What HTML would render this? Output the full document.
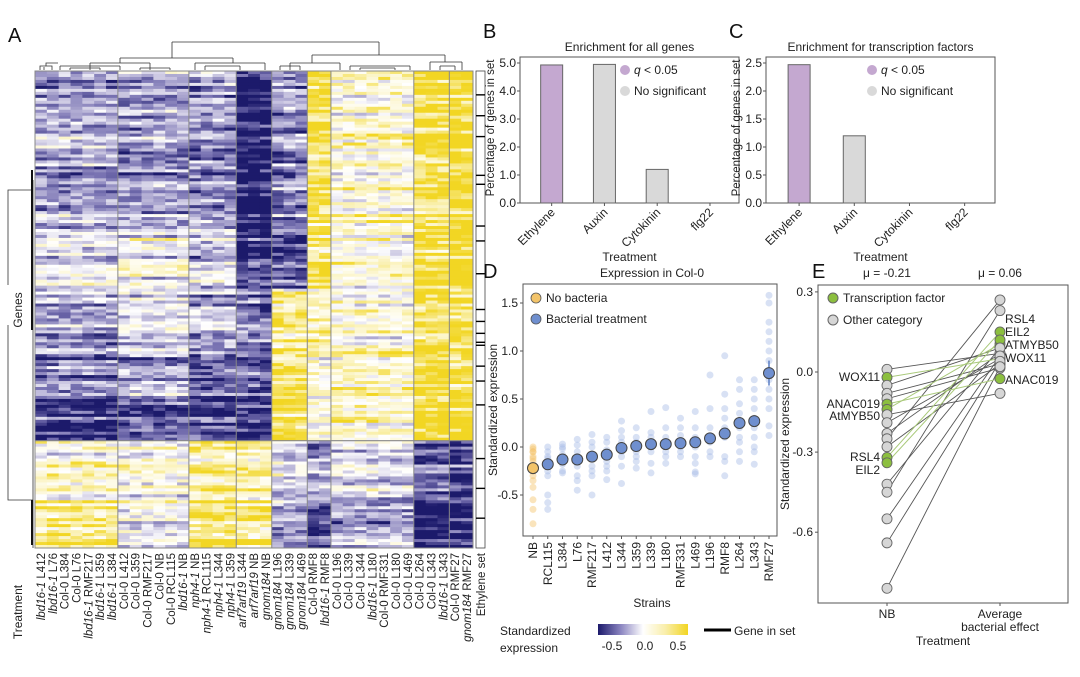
<!DOCTYPE html>
<html><head><meta charset="utf-8"><style>
html,body{margin:0;padding:0;background:#fff}
svg{display:block;font-family:"Liberation Sans",Arial,sans-serif}
</style></head><body>
<svg id="fig" width="1080" height="677" viewBox="0 0 1080 677">
<g id="hm"></g>
<g id="pb"></g>
<g id="pc"></g>
<g id="pd"></g>
<g id="pe"></g>
<g id="lg"></g>
</svg>
<script>
// ---------- DATA ----------
const hmColumns = ["lbd16-1 L412","lbd16-1 L76","Col-0 L384","Col-0 L76","lbd16-1 RMF217","lbd16-1 L359","lbd16-1 L384","Col-0 L412","Col-0 L359","Col-0 RMF217","Col-0 NB","Col-0 RCL115","lbd16-1 NB","nph4-1 NB","nph4-1 RCL115","nph4-1 L344","nph4-1 L359","arf7arf19 L344","arf7arf19 NB","gnom184 NB","gnom184 L196","gnom184 L339","gnom184 L469","Col-0 RMF8","lbd16-1 RMF8","Col-0 L196","Col-0 L339","Col-0 L344","lbd16-1 L180","Col-0 RMF331","Col-0 L180","Col-0 L469","Col-0 L264","Col-0 L343","lbd16-1 L343","Col-0 RMF27","gnom184 RMF27"];
const hmGroupSizes = [7,6,4,3,3,2,7,3,2];
const hmBandHeights = [53,20,20,17,14,20,16];
const hmBandMeans = [
 [-0.3,-0.3,-0.35,-0.75,-0.35,0.45,0.15,0.5,0.6],
 [-0.1,0.0,-0.15,-0.65,-0.5,0.4,0.1,0.5,0.6],
 [-0.3,-0.1,-0.2,-0.4,0.3,0.2,0.1,0.5,0.5],
 [-0.4,-0.3,-0.5,-0.5,0.4,0.1,0.2,0.5,0.4],
 [-0.6,-0.45,-0.65,-0.6,0.45,0.1,0.15,0.55,0.6],
 [0.15,0.1,0.3,0.3,-0.1,-0.3,-0.1,-0.45,-0.6],
 [0.35,0.0,0.45,0.4,-0.3,-0.55,-0.3,-0.7,-0.7]];
const ethyleneSetRows = [8,15,22,35,38,52,57,68,80,84,88,91,92,99,104,112,130,140,150];

const bCats = ["Ethylene","Auxin","Cytokinin","flg22"];
const bVals = [4.93,4.95,1.2,0];
const bSig = [true,false,false,false];
const cVals = [2.47,1.2,0,0];
const cSig = [true,false,false,false];

const dStrains = ["NB","RCL115","L384","L76","RMF217","L412","L344","L359","L339","L180","RMF331","L469","L196","RMF8","L264","L343","RMF27"];
const dMeans = [-0.22,-0.18,-0.13,-0.13,-0.10,-0.08,-0.01,0.01,0.03,0.03,0.04,0.05,0.09,0.14,0.25,0.27,0.77];
const dPoints = [
 [0,-0.02,-0.05,-0.1,-0.15,-0.2,-0.25,-0.3,-0.35,-0.42,-0.55,-0.65,-0.8,-0.05,-0.12],
 [0,-0.05,-0.1,-0.15,-0.2,-0.25,-0.3,-0.5,-0.58,-0.65,-0.12],
 [0.03,-0.02,-0.08,-0.13,-0.18,-0.25,-0.27,0.0],
 [0.08,0.02,-0.05,-0.1,-0.2,-0.3,-0.35,-0.45],
 [0.13,0.05,0,-0.1,-0.2,-0.25,-0.3,-0.5],
 [0.1,0.05,-0.03,-0.1,-0.15,-0.2,-0.25,-0.34],
 [0.27,0.17,0.1,0.05,-0.05,-0.1,-0.2,-0.38],
 [0.2,0.1,0.05,-0.05,-0.1,-0.15,-0.22],
 [0.37,0.15,0.1,0.0,-0.05,-0.17,-0.27],
 [0.41,0.2,0.1,0.05,-0.05,-0.1,-0.17],
 [0.3,0.2,0.12,0.05,0,-0.05,-0.1],
 [0.37,0.2,0.1,0,-0.1,-0.17,-0.26,-0.28],
 [0.75,0.4,0.2,0.1,0.05,-0.05,-0.1],
 [0.95,0.55,0.4,0.3,0.2,0.1,-0.1,-0.15,-0.3],
 [0.7,0.6,0.45,0.35,0.2,0.1,0.05,-0.05,-0.15],
 [0.7,0.6,0.5,0.4,0.3,0.2,0.1,0,-0.05,-0.18],
 [1.58,1.5,1.3,1.2,1.1,1.0,0.9,0.8,0.7,0.6,0.5,0.4,0.22,0.12]];
const dTicks = [-0.5,0,0.5,1.0,1.5];

const eGenes = ["g1","WOX11","g3","g4","g5","ANAC019","AtMYB50","g8","g9","g10","g11","g12","RSL4","EIL2","g15","g16","g17","g18","g19"];
const eIsTF = [0,1,0,0,0,1,1,0,0,0,0,0,1,1,0,0,0,0,0];
const eNB = [0.01,-0.02,-0.05,-0.08,-0.10,-0.12,-0.14,-0.16,-0.19,-0.23,-0.25,-0.28,-0.32,-0.34,-0.42,-0.45,-0.55,-0.64,-0.81];
const eAvg = [0.07,0.05,0.09,0.03,0.015,-0.025,0.105,-0.08,0.05,0.07,0.27,0.03,0.15,0.12,0.09,0.23,0.06,0.04,0.02];
const eTicks = [-0.6,-0.3,0.0,0.3];

// ---------- HELPERS ----------
const NS="http://www.w3.org/2000/svg";
function mk(parent,tag,attrs,text){const e=document.createElementNS(NS,tag);for(const k in attrs)e.setAttribute(k,attrs[k]);if(text!==undefined)e.textContent=text;parent.appendChild(e);return e;}
function lerp(a,b,t){return a+(b-a)*t}
function col(v){
  v=Math.max(-0.75,Math.min(0.65,v));
  let c;
  if(v<0){const t=Math.min(1,-v/0.7);const s=[[255,255,255],[200,196,224],[120,114,178],[28,26,107]];const p=t*3,i=Math.min(2,Math.floor(p)),f=p-i;c=s[i].map((x,k)=>lerp(x,s[i+1][k],f));}
  else{const t=Math.min(1,v/0.55);const s=[[255,255,255],[250,241,180],[242,214,35]];const p=t*2,i=Math.min(1,Math.floor(p)),f=p-i;c=s[i].map((x,k)=>lerp(x,s[i+1][k],f));}
  return `rgb(${c.map(Math.round).join(',')})`;
}
function hash(a,b){let h=(a*374761393+b*668265263)^0x5bd1e995;h=(h^(h>>>13))*1274126177;h=h^(h>>>16);return ((h>>>0)%10000)/10000;}
function txt(p,x,y,s,o){o=o||{};const e=mk(p,'text',Object.assign({x:x,y:y,'font-size':o.size||12,fill:o.fill||'#222','text-anchor':o.anchor||'start'},o.extra||{}),s);return e;}

// ---------- PANEL A: HEATMAP ----------
(function(){
  const g=document.getElementById('hm');
  const x0=35,x1=473,y0=71,y1=548;
  const nCol=hmColumns.length,cw=(x1-x0)/nCol;
  const totalRows=hmBandHeights.reduce((a,b)=>a+b,0);const rh=(y1-y0)/totalRows;
  let colGroup=[];hmGroupSizes.forEach((n,gi)=>{for(let i=0;i<n;i++)colGroup.push(gi)});
  let r=0;
  hmBandHeights.forEach((h,bi)=>{
    for(let k=0;k<h;k++,r++){
      const rowNoise=(hash(r,999)-0.5)*0.35;
      for(let c=0;c<nCol;c++){
        const gi=colGroup[c];
        const m=hmBandMeans[bi][gi];
        const v=m+rowNoise+(hash(r,gi+500)-0.5)*0.4+(hash(r,c)-0.5)*0.4;
        const e=mk(g,'rect',{x:(x0+c*cw).toFixed(2),y:(y0+r*rh).toFixed(2),width:(cw+0.4).toFixed(2),height:(rh+0.4).toFixed(2),fill:col(v)});
        
        
      }
    }
  });
  let acc=0;hmGroupSizes.forEach(n=>{acc+=n;if(acc<nCol)mk(g,'line',{x1:x0+acc*cw,x2:x0+acc*cw,y1:y0,y2:y1,stroke:'#888','stroke-width':1})});
  const splitY=y0+hmBandHeights.slice(0,5).reduce((a,b)=>a+b,0)*rh;
  mk(g,'line',{x1:x0,x2:x1,y1:splitY,y2:splitY,stroke:'#888','stroke-width':1.2});
  mk(g,'rect',{x:x0,y:y0,width:x1-x0,height:y1-y0,fill:'none',stroke:'#888','stroke-width':1});
  mk(g,'rect',{x:476,y:y0,width:9,height:y1-y0,fill:'#fff',stroke:'#444','stroke-width':0.8,});
  ethyleneSetRows.forEach(rr=>{const yy=y0+rr*rh;const e=mk(g,'line',{x1:476,x2:485,y1:yy,y2:yy,stroke:'#000','stroke-width':1.4});});
  mk(g,'path',{d:'M40 70V66H52V70 M46 66V63H58 M44 70V67 M172 42H379 M172 42V58 M120 58H233 M120 58V63 M233 58V63 M90 63H150 M90 63V70 M150 63V70 M195 63H265 M195 63V70 M265 63V70 M379 42V55 M312 55H445 M312 55V63 M445 55V62 M290 63H340 M290 63V70 M340 63V70 M430 62H462 M430 62V70 M462 62V70 M60 66H120 M60 66V70 M120 66V70 M205 66H240 M205 66V70 M240 66V70 M350 66H410 M350 66V70 M410 66V70 M280 66H300 M280 66V70 M300 66V70 M440 66H455 M440 66V70 M455 66V70 M70 68H100 M70 68V70 M100 68V70 M140 68H170 M140 68V70 M170 68V70 M360 68H395 M360 68V70 M395 68V70',fill:'none',stroke:'#333','stroke-width':0.8,});
  mk(g,'path',{d:'M33 180V440 M33 190H8V500H33 M33 440V548',fill:'none',stroke:'#333','stroke-width':0.8,});
  mk(g,'line',{x1:32,x2:32,y1:170,y2:330,stroke:'#111','stroke-width':2});
  mk(g,'line',{x1:32,x2:32,y1:500,y2:545,stroke:'#111','stroke-width':2});
  mk(g,'rect',{x:4,y:285,width:26,height:40,fill:'#fff'});
  txt(g,0,0,'Genes',{size:12,extra:{transform:'translate(22,310) rotate(-90)','text-anchor':'middle',}});
  txt(g,0,0,'Treatment',{size:12,extra:{transform:'translate(22,612) rotate(-90)','text-anchor':'middle',}});
  txt(g,8,42,'A',{size:20,fill:'#111',extra:{}});
  const all=hmColumns.concat(['Ethylene set']);
  all.forEach((lab,i)=>{
    const cx=i<nCol?x0+(i+0.5)*cw:481;
    const t=mk(g,'text',{transform:`translate(${cx+4},553) rotate(-90)`,'font-size':11.5,fill:'#222','text-anchor':'end'});
    
    
    const parts=lab.split(' ');
    if(parts[0]==='Col-0'||lab==='Ethylene set'){t.textContent=lab;}
    else{mk(t,'tspan',{'font-style':'italic'},parts[0]);mk(t,'tspan',{},' '+parts[1]);}
  });
})();

// ---------- PANELS B & C ----------
function barPanel(id,x0,x1,vals,sig,ymax,ticks,tickFmt,title,letter,lx){
  const g=document.getElementById(id);
  const y0=57,yb=203,yTop=63;
  const ys=v=>yb-(v/ymax)*(yb-yTop);
  const step=(x1-x0)/4.15;
  const xs=i=>x0+step*(0.6+i);
  txt(g,x0-37,38,letter,{size:20,fill:'#111',extra:{}});
  txt(g,(x0+x1)/2,51,title,{size:12,anchor:'middle',extra:{}});
  mk(g,'rect',{x:x0,y:y0,width:x1-x0,height:yb-y0,fill:'none',stroke:'#555','stroke-width':1,});
  ticks.forEach(t=>{const y=ys(t);mk(g,'line',{x1:x0-3,x2:x0,y1:y,y2:y,stroke:'#555'});const e=txt(g,x0-4,y+4,tickFmt(t),{size:12,anchor:'end'});});
  txt(g,0,0,'Percentage of genes in set',{size:11.5,extra:{transform:`translate(${x0-26},${(y0+yb)/2-2}) rotate(-90)`,'text-anchor':'middle',}});
  bCats.forEach((c,i)=>{
    const x=xs(i);
    if(vals[i]>0){const r=mk(g,'rect',{x:x-11,y:ys(vals[i]),width:22,height:yb-ys(vals[i]),fill:sig[i]?'#c4a8d0':'#d9d9d9',stroke:'#666','stroke-width':1});}
    mk(g,'line',{x1:x,x2:x,y1:yb,y2:yb+3,stroke:'#555'});
    const e=txt(g,0,0,c,{size:12,extra:{transform:`translate(${x+4},${yb+10}) rotate(-45)`,'text-anchor':'end'}});
  });
  txt(g,(x0+x1)/2,261,'Treatment',{size:12,anchor:'middle',extra:{}});
  mk(g,'circle',{cx:lx,cy:70,r:5,fill:'#c4a8d0',});
  const q=mk(g,'text',{x:lx+9,y:74,'font-size':12,fill:'#222',});
  mk(q,'tspan',{'font-style':'italic'},'q');mk(q,'tspan',{},' < 0.05');
  mk(g,'circle',{cx:lx,cy:91,r:5,fill:'#d9d9d9',});
  txt(g,lx+9,95,'No significant',{size:12,extra:{}});
}
barPanel('pb',520,739,bVals,bSig,5.0,[0,1,2,3,4,5],t=>t.toFixed(1),'Enrichment for all genes','B',625);
barPanel('pc',766,995,cVals,cSig,2.5,[0,0.5,1,1.5,2,2.5],t=>t.toFixed(1),'Enrichment for transcription factors','C',872);

// ---------- PANEL D ----------
(function(){
  const g=document.getElementById('pd');
  const x0=523,x1=777,y0=284,y1=536;
  const ys=v=>447-96*v;
  const xs=i=>533+i*14.75;
  txt(g,483,278,'D',{size:20,fill:'#111',extra:{}});
  txt(g,652,277,'Expression in Col-0',{size:12,anchor:'middle',extra:{}});
  mk(g,'rect',{x:x0,y:y0,width:x1-x0,height:y1-y0,fill:'none',stroke:'#555'});
  dTicks.forEach(t=>{const y=ys(t);mk(g,'line',{x1:x0-3,x2:x0,y1:y,y2:y,stroke:'#555'});const e=txt(g,x0-5,y+4,t.toFixed(1),{size:12,anchor:'end'});});
  txt(g,0,0,'Standardized expression',{size:12,extra:{transform:`translate(497,${(y0+y1)/2}) rotate(-90)`,'text-anchor':'middle',}});
  dStrains.forEach((s,i)=>{
    const x=xs(i);const c=i===0?'#f3c46a':'#a9bde6';
    dPoints[i].forEach(v=>{const p=mk(g,'circle',{cx:x,cy:ys(v),r:3.5,fill:c,'fill-opacity':0.45});});
  });
  dStrains.forEach((s,i)=>{
    const x=xs(i);
    mk(g,'line',{x1:x,x2:x,y1:ys(dMeans[i]+0.05+(i===16?0.08:0)),y2:ys(dMeans[i]-0.05-(i===16?0.08:0)),stroke:'#5b7ec4','stroke-width':1.5});
    const m=mk(g,'circle',{cx:x,cy:ys(dMeans[i]),r:5.5,fill:i===0?'#f3c46a':'#6f8fcf',stroke:'#444','stroke-width':1});
    
    
    mk(g,'line',{x1:x,x2:x,y1:y1,y2:y1+3,stroke:'#555'});
    const e=txt(g,0,0,s,{size:12,extra:{transform:`translate(${x+4},${y1+6}) rotate(-90)`,'text-anchor':'end'}});
  });
  txt(g,652,607,'Strains',{size:12,anchor:'middle',extra:{}});
  mk(g,'circle',{cx:536,cy:298,r:5,fill:'#f3c46a',stroke:'#555','stroke-width':0.8,});
  txt(g,546,302,'No bacteria',{size:12,extra:{}});
  mk(g,'circle',{cx:536,cy:319,r:5,fill:'#6f8fcf',stroke:'#555','stroke-width':0.8,});
  txt(g,546,323,'Bacterial treatment',{size:12,extra:{}});
})();

// ---------- PANEL E ----------
(function(){
  const g=document.getElementById('pe');
  const x0=818,x1=1068,y0=285,y1=603;
  const ys=v=>372-267*v;
  const xN=887,xA=1000;
  txt(g,812,278,'E',{size:20,fill:'#111',extra:{}});
  txt(g,xN,277,'μ = -0.21',{size:12,anchor:'middle',extra:{}});
  txt(g,xA,277,'μ = 0.06',{size:12,anchor:'middle',extra:{}});
  mk(g,'rect',{x:x0,y:y0,width:x1-x0,height:y1-y0,fill:'none',stroke:'#555'});
  eTicks.forEach(t=>{const y=ys(t);mk(g,'line',{x1:x0-3,x2:x0,y1:y,y2:y,stroke:'#555'});const e=txt(g,x0-5,y+4,t.toFixed(1),{size:12,anchor:'end'});});
  txt(g,0,0,'Standardized expression',{size:12,extra:{transform:`translate(789,${(y0+y1)/2}) rotate(-90)`,'text-anchor':'middle',}});
  eGenes.forEach((n,i)=>{if(!eIsTF[i]){const l=mk(g,'line',{x1:xN,y1:ys(eNB[i]),x2:xA,y2:ys(eAvg[i]),stroke:'#555','stroke-width':0.9});}});
  eGenes.forEach((n,i)=>{if(eIsTF[i]){const l=mk(g,'line',{x1:xN,y1:ys(eNB[i]),x2:xA,y2:ys(eAvg[i]),stroke:'#a9c97a','stroke-width':1});}});
  eGenes.forEach((n,i)=>{
    const f=eIsTF[i]?'#8cbf3f':'#d6d6d6';
    [[xN,eNB[i]],[xA,eAvg[i]]].forEach(([x,v])=>{const c=mk(g,'circle',{cx:x,cy:ys(v),r:5,fill:f,stroke:'#666','stroke-width':0.9});});
  });
  const nbL=[["WOX11",381],["ANAC019",408],["AtMYB50",420],["RSL4",461],["EIL2",474]];
  nbL.forEach(([n,y])=>{const e=txt(g,xN-7,y,n,{size:12,anchor:'end'});});
  const avL=[["RSL4",323],["EIL2",336],["ATMYB50",349],["WOX11",362],["ANAC019",384]];
  avL.forEach(([n,y])=>{const e=txt(g,xA+5,y,n,{size:12});});
  [xN,xA].forEach(x=>mk(g,'line',{x1:x,x2:x,y1:y1,y2:y1+3,stroke:'#555'}));
  txt(g,xN,618,'NB',{size:12,anchor:'middle',extra:{}});
  txt(g,xA,618,'Average',{size:12,anchor:'middle',extra:{}});
  txt(g,xA,631,'bacterial effect',{size:12,anchor:'middle'});
  txt(g,943,645,'Treatment',{size:12,anchor:'middle',extra:{}});
  mk(g,'circle',{cx:833,cy:298,r:5,fill:'#8cbf3f',stroke:'#666',});
  txt(g,843,302,'Transcription factor',{size:12,extra:{}});
  mk(g,'circle',{cx:833,cy:320,r:5,fill:'#d6d6d6',stroke:'#666',});
  txt(g,843,324,'Other category',{size:12,extra:{}});
})();

// ---------- BOTTOM LEGEND ----------
(function(){
  const g=document.getElementById('lg');
  txt(g,500,635,'Standardized',{size:12,extra:{}});
  txt(g,500,652,'expression',{size:12});
  const defs=mk(g,'defs',{});
  const lgd=mk(defs,'linearGradient',{id:'cb',x1:0,x2:1,y1:0,y2:0});
  [[0,'#1c1a6b'],[0.25,'#8a84c0'],[0.5,'#ffffff'],[0.75,'#f9eeaa'],[1,'#f2d522']].forEach(([o,c])=>mk(lgd,'stop',{offset:o,'stop-color':c}));
  mk(g,'rect',{x:598,y:624,width:90,height:11,fill:'url(#cb)',});
  txt(g,612,650,'-0.5',{size:12,anchor:'middle'});
  txt(g,645,650,'0.0',{size:12,anchor:'middle'});
  txt(g,678,650,'0.5',{size:12,anchor:'middle'});
  mk(g,'line',{x1:704,x2:731,y1:630,y2:630,stroke:'#000','stroke-width':3,});
  txt(g,734,635,'Gene in set',{size:12,extra:{}});
})();
</script>
</body></html>
